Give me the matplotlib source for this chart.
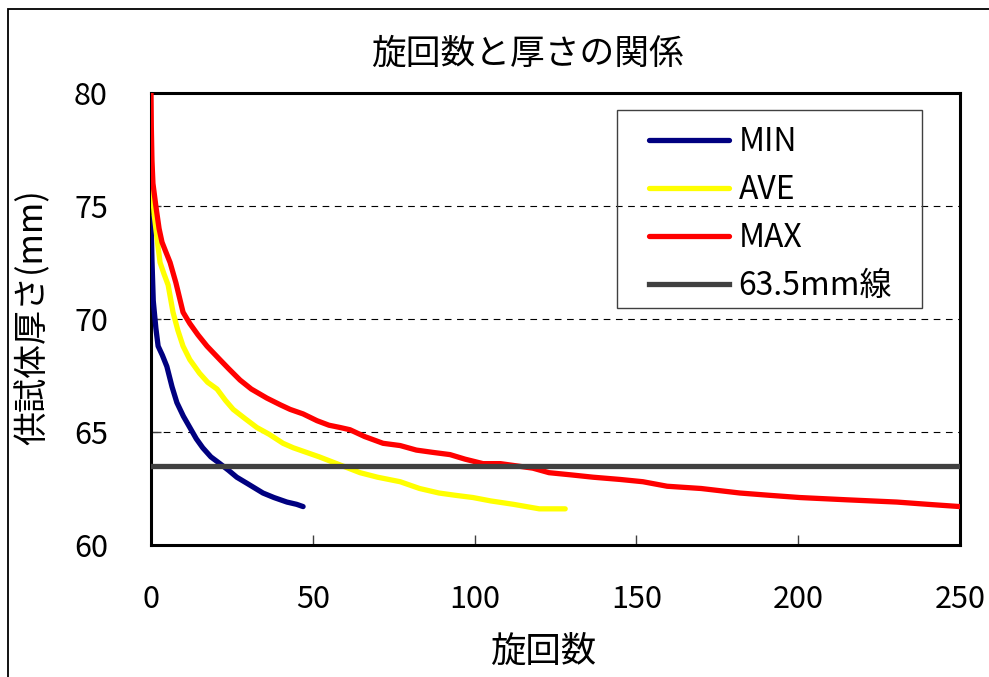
import matplotlib
matplotlib.use("Agg")
import matplotlib.pyplot as plt
from matplotlib.patches import Rectangle

plt.rcParams['font.family'] = ['Noto Sans CJK JP', 'DejaVu Sans']

title = "旋回数と厚さの関係"
xlabel = "旋回数"
ylabel = "供試体厚さ(mm)"

min_x = [0, 0.3, 0.7, 1.5, 2.2, 3.5, 4.9, 6.5, 8, 10, 12, 14, 16, 18.5, 21.3, 24, 26.5, 30, 34.6, 38, 42, 45, 47]
min_y = [74.5, 72.6, 70.8, 69.6, 68.8, 68.4, 67.9, 67.0, 66.3, 65.7, 65.2, 64.7, 64.3, 63.9, 63.6, 63.3, 63.0, 62.7, 62.3, 62.1, 61.9, 61.8, 61.7]

ave_x = [0, 0.3, 1, 2, 2.8, 4, 5.3, 6.8, 8.3, 9.9, 12, 15, 17.5, 20.4, 23, 25.4, 29, 32.7, 36.5, 40.8, 44, 48, 52, 57.4,
         64.6, 70, 77, 83, 89, 94, 99.5, 105, 112, 116, 120, 124, 128]
ave_y = [78.0, 75.9, 74.6, 73.4, 72.5, 72.0, 71.5, 70.3, 69.5, 68.8, 68.2, 67.6, 67.2, 66.9, 66.4, 66.0, 65.6, 65.2, 64.9, 64.5,
         64.3, 64.1, 63.9, 63.6, 63.2, 63.0, 62.8, 62.5, 62.3, 62.2, 62.1, 61.95, 61.8, 61.7, 61.6, 61.6, 61.6]

max_x = [0, 0.1, 0.3, 0.6, 1.5, 2.5, 3.4, 4.5, 5.9, 7.7, 9.9, 12, 14.5, 17.3, 21.3, 24, 27.5, 31, 35.8, 40, 43, 47, 51.3,
         55, 58.4, 61.5, 66, 71.7, 77, 82, 87, 92.4, 97, 102.6, 108, 113, 118, 123, 130, 136.6, 145, 152, 159.5, 170,
         182, 191, 200.5, 215, 230.5, 240, 250]
max_y = [80.0, 78.5, 77.0, 76.0, 75.0, 74.0, 73.4, 73.0, 72.5, 71.6, 70.3, 69.8, 69.3, 68.8, 68.2, 67.8, 67.3, 66.9, 66.5,
         66.2, 66.0, 65.8, 65.5, 65.3, 65.2, 65.1, 64.8, 64.5, 64.4, 64.2, 64.1, 64.0, 63.8, 63.6, 63.6, 63.5, 63.4, 63.2,
         63.1, 63.0, 62.9, 62.8, 62.6, 62.5, 62.3, 62.2, 62.1, 62.0, 61.9, 61.8, 61.7]

ref_x = [0, 250]
ref_y = [63.5, 63.5]

series_labels = ["MIN", "AVE", "MAX", "63.5mm線"]

W, H = 989, 677
fig = plt.figure(figsize=(W / 100, H / 100), dpi=100)
ax = fig.add_axes([151 / W, 1 - 545 / H, (960 - 151) / W, (545 - 93) / H])

ax.plot(min_x, min_y, color='#000080', lw=3.8, label=series_labels[0], solid_capstyle='round', zorder=3)
ax.plot(ave_x, ave_y, color='#FFFF00', lw=3.8, label=series_labels[1], solid_capstyle='round', zorder=4)
ax.plot(max_x, max_y, color='#FF0000', lw=3.8, label=series_labels[2], solid_capstyle='round', zorder=5)
ax.plot(ref_x, ref_y, color='#404040', lw=3.8, label=series_labels[3], zorder=6)

ax.set_xlim(0, 250)
ax.set_ylim(60, 80)
ax.set_xticks([0, 50, 100, 150, 200, 250])
ax.set_yticks([60, 65, 70, 75, 80])
for yv in [65, 70, 75]:
    ax.axhline(yv, color='black', lw=0.8, ls=(0, (6, 5)), zorder=1)

for s in ax.spines.values():
    s.set_linewidth(2.2)
    s.set_color('black')
ax.tick_params(direction='in', length=7, width=1, color='#404040', labelsize=22, pad=28)
ax.tick_params(axis='y', pad=31)

fig.text(527 / W, 1 - 54 / H, title, ha='center', va='center', fontsize=25)
fig.text(543 / W, 1 - 652 / H, xlabel, ha='center', va='center', fontsize=25.5)
fig.text(33 / W, 1 - 317 / H, ylabel, ha='center', va='center', fontsize=24.5, rotation=90)

# legend
fig.patches.append(Rectangle((617 / W, 1 - 308 / H), (922 - 617) / W, (308 - 110) / H,
                             transform=fig.transFigure, fill=False, edgecolor='#404040', lw=1))
leg = ax.legend(loc='upper left', bbox_to_anchor=(649 / W, 1 - 126 / H), bbox_transform=fig.transFigure,
                frameon=False, fontsize=23, borderpad=0, borderaxespad=0, handlelength=2.5,
                handletextpad=0.3, labelspacing=0.5)

# figure border
fig.patches.append(Rectangle((8 / W, -0.1), 1.2, 1.1 - 9 / H, transform=fig.transFigure,
                             fill=False, edgecolor='black', lw=1.3))

fig.savefig("out.png", dpi=100)
